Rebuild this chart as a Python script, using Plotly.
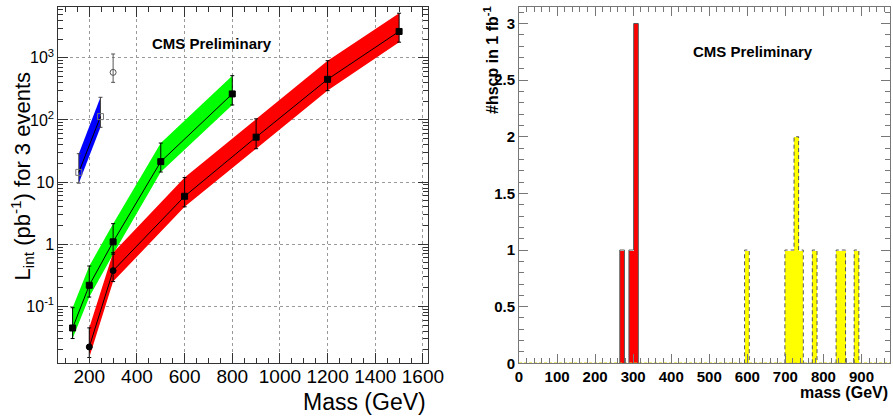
import plotly.graph_objects as go

# ---------------- data: left panel (integrated luminosity for 3 events) ----------------
stau_mass = [156, 247]
stau_val = [14.3, 113]
stau_lo = [9.6, 76]
stau_hi = [28.6, 231]

stop_mass = [130, 200, 300, 500, 800]
stop_val = [0.0448, 0.218, 1.09, 21.3, 262]
stop_lo = [0.0303, 0.141, 0.69, 14.5, 174]
stop_hi = [0.095, 0.445, 2.14, 42.4, 515]

gluino_mass = [200, 300, 600, 900, 1200, 1500]
gluino_val = [0.0222, 0.375, 5.9, 52.8, 450, 2650]
gluino_lo = [0.015, 0.25, 4.0, 34.4, 296, 1780]
gluino_hi = [0.045, 0.73, 11.8, 104, 897, 5210]

extra_mass = [300]
extra_val = [582]
extra_lo = [402]
extra_hi = [1150]

left_xticks = [200, 400, 600, 800, 1000, 1200, 1400, 1600]
left_yticks = [0.1, 1, 10, 100, 1000]
left_yticktext = ["10<sup>-1</sup>", "1", "10", "10<sup>2</sup>", "10<sup>3</sup>"]

# ---------------- data: right panel (#hscp in 1 fb^-1) ----------------
bin_width = 12.3
red_mass = [271, 295, 307.5]
red_count = [1, 1, 3]
yellow_mass = [599, 705, 717, 729, 741, 777, 839.5, 852, 887]
yellow_count = [1, 1, 1, 2, 1, 1, 1, 1, 1]

right_xticks = [0, 100, 200, 300, 400, 500, 600, 700, 800, 900]
right_yticks = [0, 0.5, 1, 1.5, 2, 2.5, 3]

W, H = 893, 419
FONT = "Liberation Sans"


def px(x):
    return x / W


def py(y):
    return 1 - y / H


fig = go.Figure()


def band(mass, lo, hi, color, name):
    fig.add_trace(go.Scatter(
        x=list(mass) + list(mass)[::-1],
        y=list(hi) + list(lo)[::-1],
        fill="toself", fillcolor=color, line=dict(width=0),
        mode="lines", hoverinfo="skip", showlegend=False, name=name,
        xaxis="x", yaxis="y"))


def points(mass, val, lo, hi, symbol, mcolor, lcolor, msize=6, line=True):
    fig.add_trace(go.Scatter(
        x=mass, y=val,
        mode="lines+markers" if line else "markers",
        line=dict(color="black", width=1),
        marker=dict(symbol=symbol, size=msize, color=mcolor,
                    line=dict(color=lcolor, width=1)),
        error_y=dict(type="data", symmetric=False,
                     array=[h - v for h, v in zip(hi, val)],
                     arrayminus=[v - l for l, v in zip(lo, val)],
                     color=lcolor, thickness=1, width=2),
        showlegend=False, xaxis="x", yaxis="y"))


band(stau_mass, stau_lo, stau_hi, "#0000ff", "stau")
band(stop_mass, stop_lo, stop_hi, "#00ff00", "stop")
band(gluino_mass, gluino_lo, gluino_hi, "#ff0000", "gluino")

points(stau_mass, stau_val, stau_lo, stau_hi, "square-open", "#777", "#444", msize=6)
points(stop_mass, stop_val, stop_lo, stop_hi, "square", "black", "black")
points(gluino_mass, gluino_val, gluino_lo, gluino_hi,
       ["circle", "circle", "square", "square", "square", "square"], "black", "black")
points(extra_mass, extra_val, extra_lo, extra_hi, "circle-open", "#555", "#555", msize=6, line=False)

# ---------------- right panel ----------------
xr_max = 975


def step_outline(centers, counts, w):
    """Histogram step outline: contiguous bins share one outline."""
    xs, ys = [], []
    prev_r = None
    for m, c in sorted(zip(centers, counts)):
        l, r = m - w / 2, m + w / 2
        if prev_r is not None and abs(l - prev_r) < w * 0.3:
            xs += [l, l, r]
            ys += [ys[-1], c, c]
        else:
            if prev_r is not None:
                xs += [prev_r, None]
                ys += [0, None]
            xs += [l, l, r]
            ys += [0, c, c]
        prev_r = r
    xs += [prev_r]
    ys += [0]
    return xs, ys


fig.add_trace(go.Scatter(x=[0, xr_max], y=[0, 0], mode="lines",
                         line=dict(color="#e0d000", width=1.5, dash="3px,2px"),
                         showlegend=False, xaxis="x2", yaxis="y2", hoverinfo="skip"))
fig.add_trace(go.Bar(x=red_mass, y=red_count, width=bin_width,
                     marker=dict(color="#ff0000", line=dict(width=0)),
                     showlegend=False, xaxis="x2", yaxis="y2"))
rx, ry = step_outline(red_mass, red_count, bin_width)
fig.add_trace(go.Scatter(x=rx, y=ry, mode="lines", line=dict(color="#555", width=1),
                         showlegend=False, xaxis="x2", yaxis="y2", hoverinfo="skip"))
fig.add_trace(go.Bar(x=yellow_mass, y=yellow_count, width=bin_width,
                     marker=dict(color="#ffff00", line=dict(width=0)),
                     showlegend=False, xaxis="x2", yaxis="y2"))
yx, yy = step_outline(yellow_mass, yellow_count, bin_width)
fig.add_trace(go.Scatter(x=yx, y=yy, mode="lines",
                         line=dict(color="#555", width=1, dash="4px,3px"),
                         showlegend=False, xaxis="x2", yaxis="y2", hoverinfo="skip"))

# ---------------- layout ----------------
ldom_x = [px(58.3), px(427.7)]
rdom_x = [px(519), px(890)]
dom_y = [py(363.3), py(6.5)]

minor_log = [k * 10 ** e for e in range(-2, 4) for k in range(2, 10)]

axis_common = dict(showline=True, mirror="allticks", ticks="inside",
                   linecolor="#333", linewidth=1, tickcolor="#333",
                   zeroline=False, automargin=False)

fig.update_layout(
    width=W, height=H, margin=dict(l=0, r=0, t=0, b=0),
    paper_bgcolor="white", plot_bgcolor="white",
    font=dict(family=FONT, color="black"),
    barmode="overlay", bargap=0,
    xaxis=dict(domain=ldom_x, range=[70, 1620], tickvals=left_xticks,
               tickfont=dict(size=19), ticklen=10, ticklabelstandoff=-4,
               showgrid=True, gridcolor="#999", griddash="dot", gridwidth=1,
               minor=dict(ticks="inside", ticklen=5, dtick=50, tick0=0, showgrid=False),
               anchor="y", **axis_common),
    yaxis=dict(domain=dom_y, type="log", range=[-1.917, 3.825],
               tickvals=left_yticks, ticktext=left_yticktext,
               tickfont=dict(size=16), ticklen=10,
               showgrid=True, gridcolor="#999", griddash="dot", gridwidth=1,
               minor=dict(ticks="inside", ticklen=5, tickmode="array",
                          tickvals=minor_log, showgrid=False),
               anchor="x", **axis_common),
    xaxis2=dict(domain=rdom_x, range=[0, xr_max], tickvals=right_xticks,
                tickfont=dict(size=15, weight="bold"), ticklen=9,
                showgrid=False,
                minor=dict(ticks="inside", ticklen=5, dtick=20, tick0=0),
                anchor="y2", **{**axis_common, "linecolor": "#777", "tickcolor": "#777"}),
    yaxis2=dict(domain=dom_y, range=[0, 3.15], tickvals=right_yticks,
                ticktext=["0", "0.5", "1", "1.5", "2", "2.5", "3"],
                tickfont=dict(size=15, weight="bold"), ticklen=9,
                showgrid=False,
                minor=dict(ticks="inside", ticklen=5, dtick=0.1, tick0=0),
                anchor="x2", **{**axis_common, "linecolor": "#777", "tickcolor": "#777"}),
)

ann = [
    dict(text="CMS Preliminary", x=px(212), y=py(43.3), font=dict(size=15, weight="bold"),
         xanchor="center", yanchor="middle"),
    dict(text="CMS Preliminary", x=px(753), y=py(51.7), font=dict(size=15, weight="bold"),
         xanchor="center", yanchor="middle"),
    dict(text="Mass (GeV)", x=px(428), y=py(402), font=dict(size=23),
         xanchor="right", yanchor="middle"),
    dict(text="L<sub>int</sub> (pb<sup>-1</sup>) for 3 events", x=px(22), y=py(70),
         textangle=-90, font=dict(size=22), xanchor="center", yanchor="top"),
    dict(text="mass (GeV)", x=px(890), y=py(392), font=dict(size=16, weight="bold"),
         xanchor="right", yanchor="middle"),
    dict(text="#hscp in 1 fb<sup>-1</sup>", x=px(491), y=py(4), textangle=-90,
         font=dict(size=16, weight="bold"), xanchor="center", yanchor="top"),
]
for a in ann:
    fig.add_annotation(xref="paper", yref="paper", showarrow=False, **a)

fig.write_html("out.html", config={"displayModeBar": False},
               post_script="document.body.style.margin='0';")
